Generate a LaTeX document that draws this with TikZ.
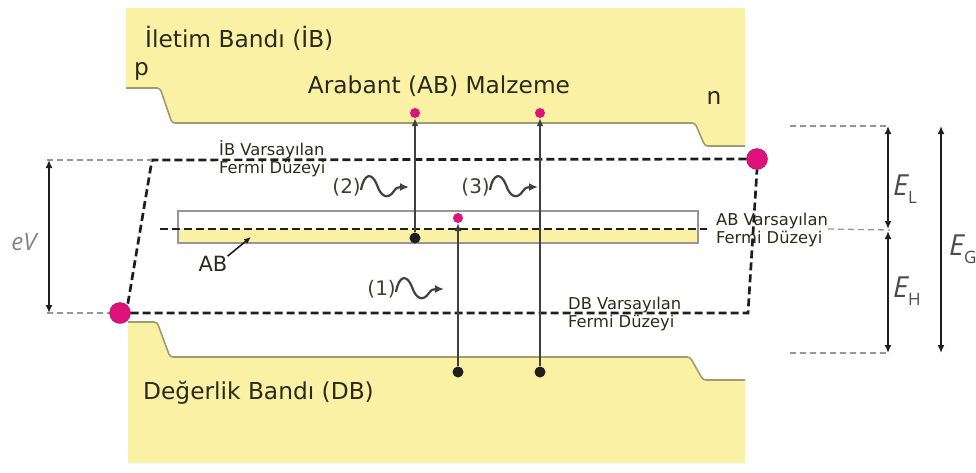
\documentclass[tikz,border=0pt]{standalone}
\usepackage{fontspec}
\setmainfont{DejaVu Sans}
\newfontfamily\symfont{Open Sans}
\usetikzlibrary{arrows.meta}
\definecolor{band}{RGB}{250,241,165}
\definecolor{bandedge}{RGB}{160,155,115}
\definecolor{dotpink}{RGB}{222,18,122}
\definecolor{ink}{RGB}{30,30,30}
\definecolor{txt}{RGB}{42,42,30}
\definecolor{guide}{RGB}{150,150,150}
\tikzset{
  bandline/.style={draw=bandedge, line width=1.6pt, rounded corners=3pt},
  fermi/.style={draw=ink, line width=2.7pt, dash pattern=on 8pt off 4pt},
  guideline/.style={draw=guide, line width=1.3pt, dash pattern=on 6pt off 4pt},
  vline/.style={draw=ink!85, line width=2.6pt, -{Latex[length=8pt,width=7pt]}},
  dim/.style={draw=ink, line width=2.2pt, {Latex[length=8pt,width=7pt]}-{Latex[length=8pt,width=7pt]}},
  pdot/.style={circle, fill=dotpink, inner sep=0pt, minimum size=10pt},
  bdot/.style={circle, fill=ink, inner sep=0pt, minimum size=11pt},
  bigdot/.style={circle, fill=dotpink, draw=dotpink!70!black, line width=0.4pt, inner sep=0pt, minimum size=21pt},
  bigtext/.style={text=txt, font=\fontsize{23.3}{26}\selectfont, inner sep=0pt},
  smalltext/.style={text=txt, font=\fontsize{16.3}{18}\selectfont, align=left, inner sep=0pt},
  numtext/.style={text=txt!90, font=\fontsize{20}{22}\selectfont, inner sep=0pt},
  energy/.style={text=ink!80, font=\symfont\itshape\fontsize{29}{30}\selectfont, inner sep=0pt},
  wavy/.pic={\draw[draw=ink!85, line width=2.2pt, -{Latex[length=9pt,width=8pt]}]
     (0,3) .. controls (3,-14) and (11,-15) .. (16,-2) .. controls (20,10) and (27,13) .. (33,4)
     .. controls (35,1) and (37,0) .. (48,0);}
}
\newcommand{\esub}[1]{\raisebox{-8pt}{\upshape\fontsize{17}{17}\selectfont #1}}
\begin{document}
\begin{tikzpicture}[x=1pt,y=-1pt]
\useasboundingbox (0,0) rectangle (976,472);

% conduction band
\fill[band] (126,8) -- (745,8) -- (745,146) -- (705,146) -- (695,123) -- (172,123)
  -- (160,88) -- (126,88) -- cycle;
\draw[bandline] (126,88) -- (160,88) -- (172,123) -- (695,123) -- (705,146) -- (745,146);

% valence band
\fill[band] (128,322) -- (157,322) -- (170,357) -- (690,357) -- (703,380) -- (745,380)
  -- (745,463) -- (128,463) -- cycle;
\draw[bandline] (128,322) -- (157,322) -- (170,357) -- (690,357) -- (703,380) -- (745,380);

% intermediate band
\fill[white] (178,211) rectangle (698,229);
\fill[band] (178,229) rectangle (698,243);
\draw[draw=guide, line width=1.2pt] (178,211) rectangle (698,243);

% band labels
\node[bigtext, anchor=base west] (ib) at (145,47) {İletim Bandı (İB)};
\node[bigtext, anchor=base west] (pside) at (134,75) {p};
\node[bigtext, anchor=base] (ab) at (439,93) {Arabant (AB) Malzeme};
\node[bigtext, anchor=base] (nside) at (714,104) {n};
\node[bigtext, anchor=base west] (db) at (143,399) {Değerlik Bandı (DB)};

% quasi-Fermi levels
\node[bigdot] (pL) at (120,313) {};
\node[bigdot] (pR) at (757,159) {};
\coordinate (ibL) at (152,160);
\coordinate (dbR) at (748,313);
\draw[fermi] (pR.west) -- (ibL) -- (pL.north east);
\draw[fermi] (pL.east) -- (dbR) -- (pR.south);

\node[smalltext, anchor=west] (iblab) at (219,159) {İB Varsayılan\\Fermi Düzeyi};
\node[smalltext, anchor=west] (ablab) at (716,230) {AB Varsayılan\\Fermi Düzeyi};
\node[smalltext, anchor=west] (dblab) at (568,314) {DB Varsayılan\\Fermi Düzeyi};

\coordinate (abL) at (160,229);
\coordinate (abR) at (707,229);
\draw[fermi] (abL) -- (abR);

% guide lines
\coordinate (g1a) at (47,160);
\coordinate (g2a) at (47,313);
\draw[guideline] (g1a) -- (ibL);
\draw[guideline] (g2a) -- (pL.west);
\coordinate (eTop) at (790,126);
\coordinate (eTopR) at (890,126);
\coordinate (eMidR) at (890,230);
\coordinate (eBot) at (790,353);
\coordinate (eBotR) at (890,353);
\draw[guideline] (eTop) -- (eTopR);
\draw[guideline] (ablab.east |- abR) -- (eMidR);
\draw[guideline] (eBot) -- (eBotR);

% eV
\coordinate (eVt) at (49,160);
\coordinate (eVb) at (49,313);
\draw[dim, line width=1.8pt] (eVt) -- (eVb);
\node[energy, text=ink!55, font=\symfont\itshape\fontsize{24}{26}\selectfont] (eV) at (24,242) {eV};

% energy gaps
\coordinate (ELt) at (888,126);
\coordinate (ELb) at (888,229);
\coordinate (EHt) at (888,231);
\coordinate (EHb) at (888,353);
\coordinate (EGt) at (941,126);
\coordinate (EGb) at (941,353);
\draw[dim] (ELt) -- (ELb);
\draw[dim] (EHt) -- (EHb);
\draw[dim] (EGt) -- (EGb);
\node[energy, anchor=base west] (EL) at (893,195) {E\esub{L}};
\node[energy, anchor=base west] (EH) at (893,297) {E\esub{H}};
\node[energy, anchor=base west] (EG) at (949,255) {E\esub{G}};

% transitions
\node[pdot] (t2) at (415,113) {};
\node[bdot] (b2) at (415,238) {};
\node[pdot] (t1) at (458,218) {};
\node[bdot] (b1) at (458,372) {};
\node[pdot] (t3) at (540,113) {};
\node[bdot] (b3) at (540,372) {};
\draw[vline] (b2) -- (t2);
\draw[vline] (b1) -- (t1);
\draw[vline] (b3) -- (t3);

% photons
\node[numtext, anchor=east] (n2) at (361,187) {(2)};
\node[numtext, anchor=east] (n3) at (490,187) {(3)};
\node[numtext, anchor=east] (n1) at (396,289) {(1)};
\pic at (n2.east) {wavy};
\pic at (n3.east) {wavy};
\pic at (n1.east) {wavy};

% AB pointer
\node[bigtext, font=\fontsize{21}{24}\selectfont] (ablabel) at (213,264) {AB};
\coordinate (abtip) at (251,237);
\draw[draw=ink, line width=1.6pt, -{Latex[length=7pt,width=6pt]}] (ablabel.north east) -- (abtip);
\end{tikzpicture}
\end{document}
